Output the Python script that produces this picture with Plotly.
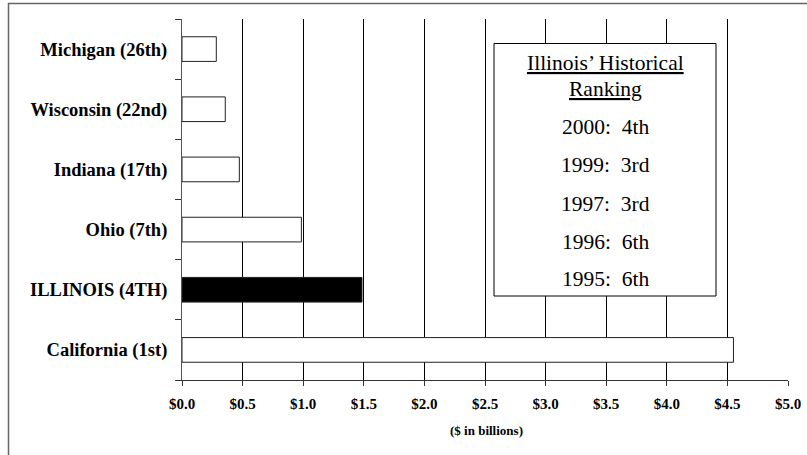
import plotly.graph_objects as go

states = ["California (1st)", "ILLINOIS (4TH)", "Ohio (7th)", "Indiana (17th)", "Wisconsin (22nd)", "Michigan (26th)"]
values = [4.55, 1.485, 0.985, 0.473, 0.357, 0.283]
bar_colors = ["white", "black", "white", "white", "white", "white"]

rank_title = "Illinois’ Historical"
rank_title2 = "Ranking"
rank_years = ["2000", "1999", "1997", "1996", "1995"]
rank_values = ["4th", "3rd", "3rd", "6th", "6th"]

FONT = "Liberation Serif"
W, H = 807, 455
L, R, T, B = 182, 19, 19, 75
pw, ph = W - L - R, H - T - B

def px_x(px):
    return (px - L) / pw

def px_y(py):
    return (H - B - py) / ph

fig = go.Figure()
fig.add_trace(go.Bar(
    x=values, y=states, orientation="h",
    marker=dict(color=bar_colors, line=dict(color="#222", width=1)),
    width=0.41,
))

fig.update_layout(
    width=W, height=H,
    margin=dict(l=L, r=R, t=T, b=B, autoexpand=False),
    paper_bgcolor="white", plot_bgcolor="white",
    showlegend=False,
    font=dict(family=FONT, color="black"),
    xaxis=dict(
        range=[0, 5], tickmode="linear", tick0=0, dtick=0.5,
        tickprefix="$", tickformat=".1f",
        showgrid=True, gridcolor="black", gridwidth=1,
        showline=True, linecolor="#333", linewidth=1,
        ticks="outside", ticklen=5, tickcolor="#333",
        tickfont=dict(family=FONT, size=15, color="black", weight="bold"),
        ticklabelstandoff=5,
        zeroline=False, fixedrange=True, automargin=False,
    ),
    yaxis=dict(
        categoryorder="array", categoryarray=states,
        showline=True, linecolor="#555", linewidth=1,
        ticks="outside", ticklen=6, tickcolor="#333", tickson="boundaries",
        tickfont=dict(family=FONT, size=18.5, color="black", weight="bold"),
        ticklabelstandoff=10,
        showgrid=False, fixedrange=True, automargin=False,
    ),
)

# x axis title
fig.add_annotation(text="<b>($ in billions)</b>", x=px_x(486), y=px_y(430),
                   xref="paper", yref="paper", showarrow=False,
                   xanchor="center", yanchor="middle",
                   font=dict(family=FONT, size=13, color="black"))

# outer frame
fig.add_shape(type="rect", xref="paper", yref="paper",
              x0=px_x(8.5), x1=px_x(830), y0=px_y(480), y1=px_y(3.5),
              line=dict(color="#666", width=1.5), fillcolor="rgba(0,0,0,0)", layer="above")

# ranking box
fig.add_shape(type="rect", xref="paper", yref="paper",
              x0=px_x(494), x1=px_x(716), y0=px_y(296), y1=px_y(43.5),
              line=dict(color="black", width=1), fillcolor="white", layer="above")

cx = px_x(605)
box_font = dict(family=FONT, size=21.5, color="black")
fig.add_annotation(text="<u>" + rank_title + "</u>", x=cx, y=px_y(63), xref="paper", yref="paper",
                   showarrow=False, xanchor="center", yanchor="middle", font=box_font)
fig.add_annotation(text="<u>" + rank_title2 + "</u>", x=cx, y=px_y(89), xref="paper", yref="paper",
                   showarrow=False, xanchor="center", yanchor="middle", font=box_font)
ys = [127, 165, 204, 242, 279]
for yr, rk, py in zip(rank_years, rank_values, ys):
    fig.add_annotation(text=f"{yr}:  {rk}", x=cx, y=px_y(py), xref="paper", yref="paper",
                       showarrow=False, xanchor="center", yanchor="middle", font=box_font)

fig.write_html("out.html", config={"displayModeBar": False},
               post_script="document.body.style.margin='0';")
